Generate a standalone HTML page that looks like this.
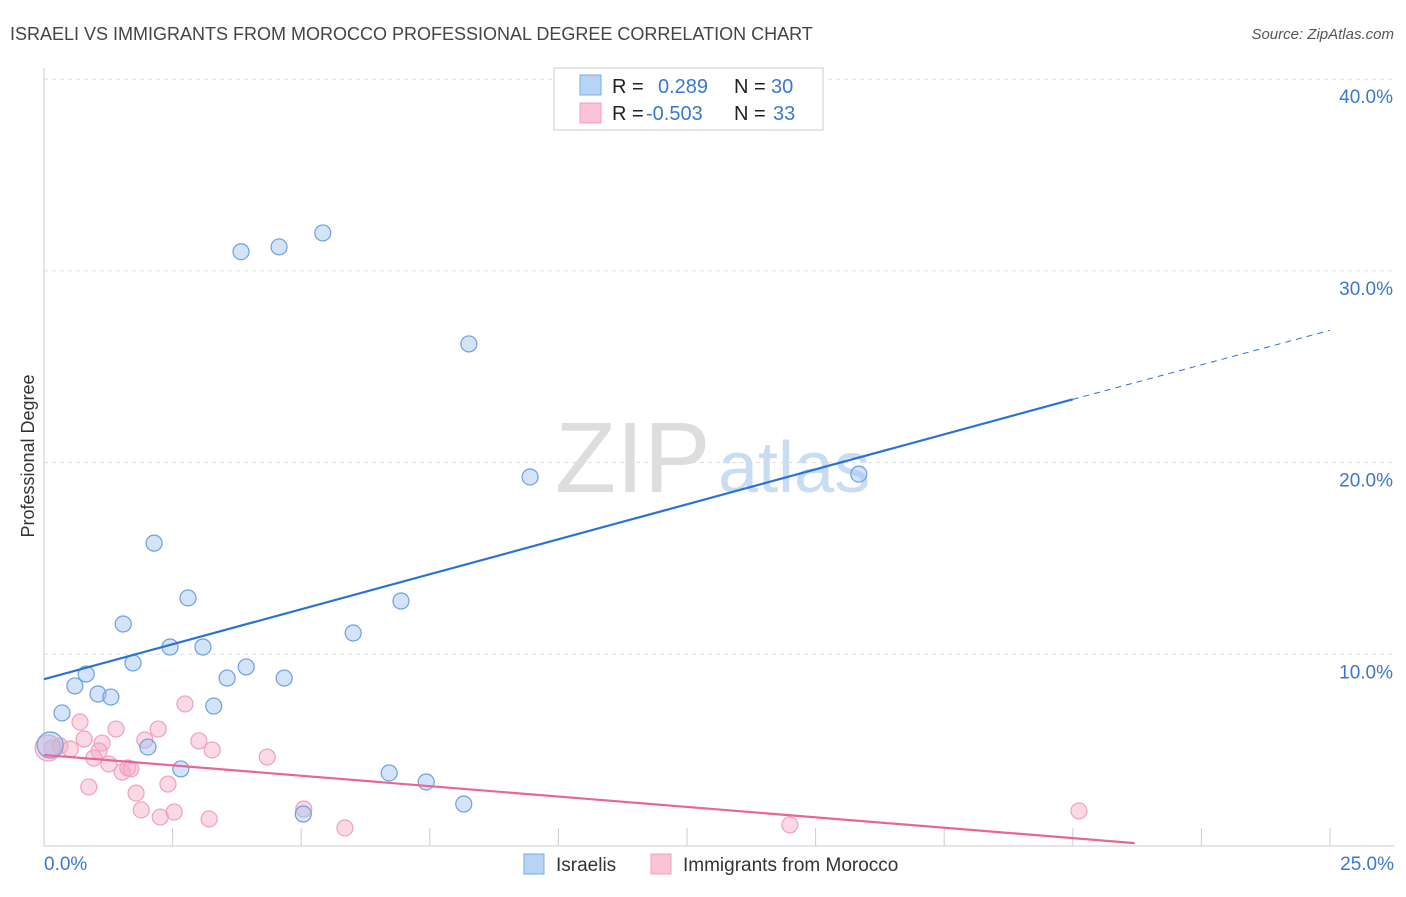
<!DOCTYPE html>
<html><head><meta charset="utf-8"><style>
body{margin:0;background:#fff;font-family:"Liberation Sans",sans-serif;}
svg text{font-family:"Liberation Sans",sans-serif;}
</style></head><body>
<svg id="c" width="1406" height="892" xmlns="http://www.w3.org/2000/svg">
<text x="10" y="40" font-size="18" fill="#444">ISRAELI VS IMMIGRANTS FROM MOROCCO PROFESSIONAL DEGREE CORRELATION CHART</text>
<text x="1394" y="39" font-size="15" fill="#555" font-style="italic" text-anchor="end">Source: ZipAtlas.com</text>
<text x="34" y="456" font-size="18" fill="#333" text-anchor="middle" transform="rotate(-90 34 456)">Professional Degree</text>
<g id="grid"></g>
<text x="555" y="492" font-size="100" fill="#ddd" font-family="Liberation Serif">ZIP</text>
<text x="718" y="492" font-size="72" fill="#c8dcf2">atlas</text>
<g id="marks"></g>
<g>
<rect x="554" y="68" width="269" height="62" fill="#fff" stroke="#ccc"/>
<rect x="580" y="75" width="21" height="20" fill="#b8d4f4" stroke="#7aaae6"/>
<rect x="580" y="103" width="21" height="20" fill="#f9c4d4" stroke="#f0a0bc"/>
<text x="612" y="93" font-size="20" fill="#222">R =</text>
<text x="658" y="93" font-size="20" fill="#3a78d0">0.289</text>
<text x="734" y="93" font-size="20" fill="#222">N =</text>
<text x="771" y="93" font-size="20" fill="#3a78d0">30</text>
<text x="612" y="120" font-size="20" fill="#222">R =</text>
<text x="646" y="120" font-size="20" fill="#3a78d0">-0.503</text>
<text x="734" y="120" font-size="20" fill="#222">N =</text>
<text x="773" y="120" font-size="20" fill="#3a78d0">33</text>
</g>
<g>
<rect x="524" y="854" width="20" height="20" fill="#b8d4f4" stroke="#7aaae6"/>
<text x="556" y="871" font-size="19" fill="#333">Israelis</text>
<rect x="651" y="854" width="20" height="20" fill="#f9c4d4" stroke="#f0a0bc"/>
<text x="683" y="871" font-size="19" fill="#333">Immigrants from Morocco</text>
</g>
</svg>
<script>
const yTicks=[10,20,30,40];
const xTickLabels=["0.0%","25.0%"];
const blueX=[3.83,4.57,5.42,8.26,9.45,15.84,2.14,2.80,6.94,1.54,6.01,2.45,3.09,1.73,3.93,0.82,3.56,4.67,0.60,1.05,1.30,3.30,0.35,2.02,0.12,2.66,6.71,7.43,8.16,5.04];
const blueY=[31.0,31.25,31.98,26.19,19.25,19.4,15.8,12.94,12.78,11.58,11.11,10.38,10.38,9.55,9.34,8.97,8.76,8.76,8.35,7.93,7.77,7.30,6.94,5.16,5.27,4.02,3.81,3.34,2.19,1.67];
const pinkX=[0.70,1.40,2.22,2.74,1.96,3.01,0.78,1.13,0.31,0.16,0.51,1.07,3.27,4.34,0.97,1.26,1.52,1.63,1.69,2.41,0.87,1.79,1.89,2.53,2.26,3.21,5.05,5.85,14.5,20.12,0.08];
const pinkY=[6.47,6.10,6.10,7.41,5.53,5.48,5.58,5.37,5.22,5.11,5.06,4.96,5.01,4.64,4.59,4.28,3.86,4.07,4.02,3.23,3.08,2.76,1.88,1.77,1.51,1.41,1.93,0.94,1.10,1.83,5.11];
const blueLine=[0,8.7,20,23.3,25,26.9];
const pinkLine=[0,4.75,21.2,0.15];
const X=v=>44+v*51.44, Y=v=>846-v*19.17;
const NS="http://www.w3.org/2000/svg";
const grid=document.getElementById('grid'), marks=document.getElementById('marks');
function mk(p,tag,a){const e=document.createElementNS(NS,tag);for(const k in a)e.setAttribute(k,a[k]);p.appendChild(e);return e;}
let ax=mk(grid,'line',{x1:44,y1:68,x2:44,y2:846,stroke:'#ccc'});


let bx=mk(grid,'line',{x1:44,y1:846,x2:1394,y2:846,stroke:'#ccc'});


yTicks.forEach(t=>{
 let l=mk(grid,'line',{x1:44,y1:Y(t),x2:1394,y2:Y(t),stroke:'#ddd','stroke-dasharray':'4,4'});
 
 
 let tx=mk(grid,'text',{x:1393,y:Y(t)+24,'font-size':19,fill:'#3a78d0','text-anchor':'end'});tx.textContent=t.toFixed(1)+'%';
 
 
});
for(let i=1;i<=10;i++){let l=mk(grid,'line',{x1:X(i*2.5),y1:828,x2:X(i*2.5),y2:846,stroke:'#ccc'});
 
 }
[[44,'start',0],[1394,'end',1]].forEach(([x,a,i])=>{let t=mk(grid,'text',{x:x,y:870,'font-size':19,fill:'#3a78d0','text-anchor':a});t.textContent=xTickLabels[i];
 
 });
function pts(xs,ys,fill,stroke,name){xs.forEach((x,i)=>{let c=mk(marks,'circle',{cx:X(x),cy:Y(ys[i]),r:(x<0.15?13:8),fill:fill,stroke:stroke,'stroke-width':1.2});
 
 });}
pts(pinkX,pinkY,'rgba(245,170,195,0.45)','#f0a0bc','morocco-point');
pts(blueX,blueY,'rgba(160,196,240,0.45)','#6d9fe0','israeli-point');
let b1=mk(marks,'line',{x1:X(blueLine[0]),y1:Y(blueLine[1]),x2:X(blueLine[2]),y2:Y(blueLine[3]),stroke:'#2a72d6','stroke-width':2.2});


let b2=mk(marks,'line',{x1:X(blueLine[2]),y1:Y(blueLine[3]),x2:X(blueLine[4]),y2:Y(blueLine[5]),stroke:'#2a72d6','stroke-width':1,'stroke-dasharray':'6,5'});


let p1=mk(marks,'line',{x1:X(pinkLine[0]),y1:Y(pinkLine[1]),x2:X(pinkLine[2]),y2:Y(pinkLine[3]),stroke:'#e8659a','stroke-width':2.2});


</script>
</body></html>
